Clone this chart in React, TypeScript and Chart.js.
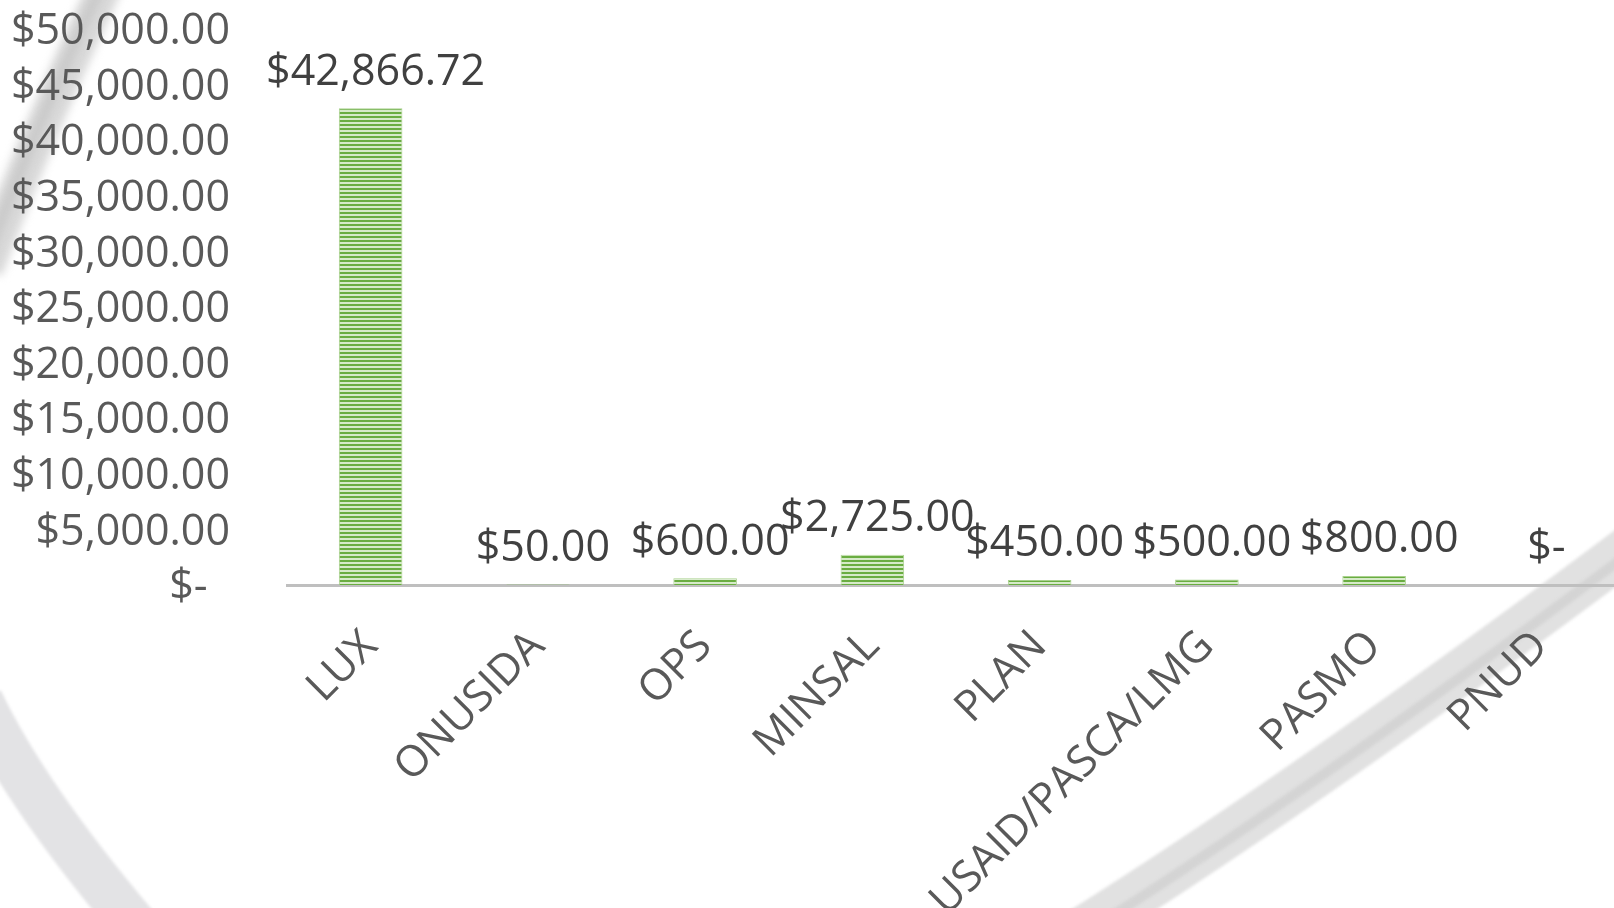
import React, { useEffect, useRef } from 'react';
import { Chart, registerables } from 'chart.js';

Chart.register(...registerables);

const categories = ['LUX', 'ONUSIDA', 'OPS', 'MINSAL', 'PLAN', 'USAID/PASCA/LMG', 'PASMO', 'PNUD'];
const amounts = [42866.72, 50, 600, 2725, 450, 500, 800, 0];
const yMin = 0;
const yMax = 50000;
const yStep = 5000;

const FONT = "'Open Sans', 'DejaVu Sans', sans-serif";
const FONT_SIZE = 43;

function money(v: number): string {
  if (v === 0) return '$-';
  return '$' + v.toLocaleString('en-US', { minimumFractionDigits: 2, maximumFractionDigits: 2 });
}

function band(ctx: CanvasRenderingContext2D, p0: number[], p1: number[], p2: number[], w: number, color: string) {
  ctx.beginPath();
  ctx.moveTo(p0[0], p0[1]);
  ctx.quadraticCurveTo(p1[0], p1[1], p2[0], p2[1]);
  ctx.lineWidth = w;
  ctx.strokeStyle = color;
  ctx.lineCap = 'butt';
  ctx.stroke();
}

const backgroundPlugin = {
  id: 'swooshBackground',
  beforeDraw(chart: any) {
    const ctx: CanvasRenderingContext2D = chart.ctx;
    ctx.save();
    ctx.fillStyle = '#ffffff';
    ctx.fillRect(0, 0, chart.width, chart.height);
    // top-left soft swoosh
    ctx.filter = 'blur(4px)';
    band(ctx, [108, -20], [40, 125], [-14, 270], 34, 'rgba(208,208,208,0.8)');
    band(ctx, [104, -20], [36, 125], [-18, 270], 10, 'rgba(190,190,190,0.6)');
    ctx.filter = 'blur(1.5px)';
    // bottom-left swoosh
    band(ctx, [-20, 700], [25, 795], [135, 925], 46, 'rgba(227,227,229,1)');
    // right swoosh
    band(ctx, [1660, 525], [1305, 792], [1050, 950], 46, 'rgba(225,225,225,1)');
    band(ctx, [1660, 530], [1305, 797], [1050, 955], 10, 'rgba(212,212,212,1)');
    ctx.restore();
  },
};

const valueLabelPlugin = {
  id: 'valueLabels',
  afterDatasetsDraw(chart: any) {
    const ctx: CanvasRenderingContext2D = chart.ctx;
    const meta = chart.getDatasetMeta(0);
    ctx.save();
    ctx.font = `${FONT_SIZE}px ${FONT}`;
    ctx.fillStyle = '#404040';
    ctx.textAlign = 'center';
    ctx.textBaseline = 'middle';
    meta.data.forEach((bar: any, i: number) => {
      ctx.fillText(money(amounts[i]), bar.x + 5, bar.y - 36);
    });
    ctx.restore();
  },
};

export default function App() {
  const ref = useRef<HTMLCanvasElement>(null);

  useEffect(() => {
    document.body.style.margin = '0';
    document.body.style.overflow = 'hidden';
    const canvas = ref.current!;
    const pc = document.createElement('canvas');
    pc.width = 4;
    pc.height = 4;
    const pctx = pc.getContext('2d')!;
    pctx.fillStyle = '#d6eac9';
    pctx.fillRect(0, 0, 4, 4);
    pctx.fillStyle = '#6aad41';
    pctx.fillRect(0, 0, 4, 2);
    const pattern = canvas.getContext('2d')!.createPattern(pc, 'repeat');

    const chart = new Chart(canvas, {
      type: 'bar',
      data: {
        labels: categories,
        datasets: [
          {
            data: amounts,
            backgroundColor: pattern as any,
            borderColor: '#a9d18e',
            borderWidth: 1,
            barPercentage: 0.38,
            categoryPercentage: 1,
          },
        ],
      },
      options: {
        responsive: false,
        animation: false,
        layout: { padding: { top: 29, right: 1, left: 0, bottom: 0 } },
        plugins: {
          legend: { display: false },
          tooltip: { enabled: false },
          title: { display: false },
        },
        scales: {
          x: {
            offset: true,
            grid: { display: false, drawTicks: false },
            border: { display: true, color: '#bfbfbf', width: 3 },
            ticks: {
              color: '#595959',
              font: { family: FONT, size: FONT_SIZE },
              minRotation: 45,
              maxRotation: 45,
              autoSkip: false,
              padding: 36,
            },
            afterFit: (scale: any) => {
              scale.height = 323;
            },
          },
          y: {
            min: yMin,
            max: yMax,
            grid: { display: false, drawTicks: false },
            border: { display: false },
            ticks: {
              stepSize: yStep,
              autoSkip: false,
              color: '#595959',
              font: { family: FONT, size: FONT_SIZE },
              padding: 57,
              labelOffset: 3,
              callback: (v: any) => (Number(v) === 0 ? '$-  ' : money(Number(v))),
            },
            afterFit: (scale: any) => {
              scale.width = 287;
              scale.paddingTop = 0;
              scale.paddingBottom = 0;
            },
          },
        },
      },
      plugins: [backgroundPlugin, valueLabelPlugin],
    });
    return () => chart.destroy();
  }, []);

  return (
    <div style={{ width: 1614, height: 908, overflow: 'hidden', position: 'relative', background: '#fff' }}>
      <canvas ref={ref} width={1626} height={908} style={{ display: 'block' }} />
    </div>
  );
}
